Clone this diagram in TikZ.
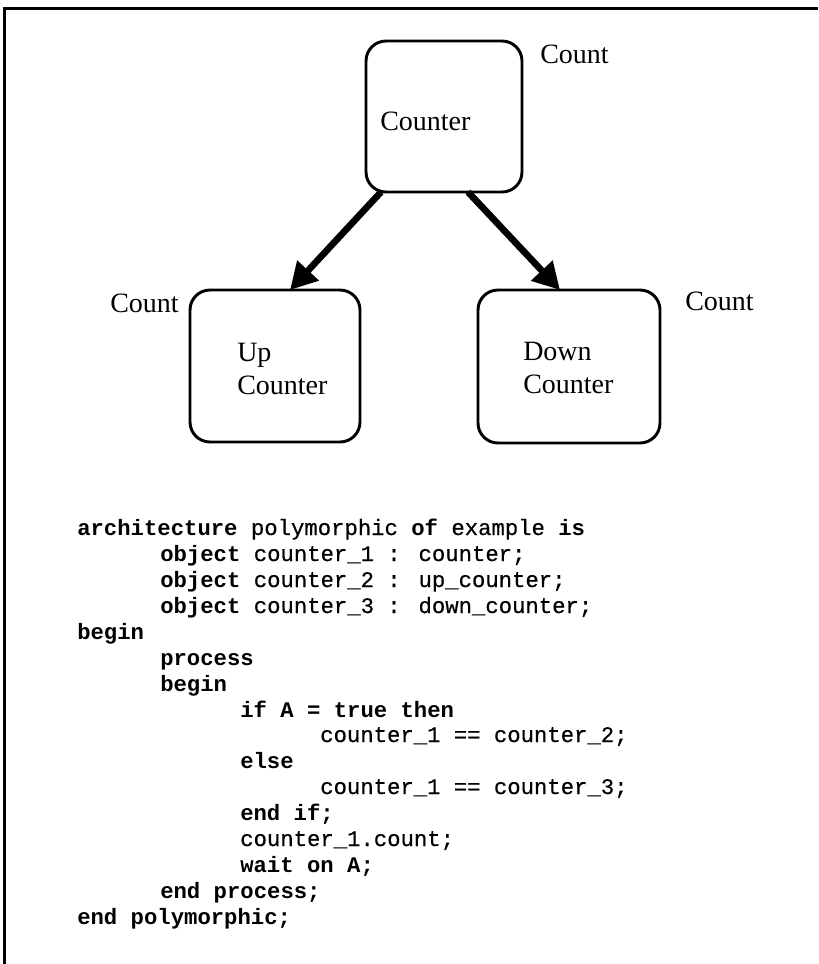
\documentclass[tikz,border=0pt]{standalone}
\usepackage{fontspec}
\setmainfont{Liberation Serif}
\newfontfamily\codefont{Liberation Mono}[UprightFeatures={FakeBold=0.5}]
\usetikzlibrary{arrows.meta,calc}

\begin{document}
\begin{tikzpicture}[x=0.75pt,y=-0.75pt,
  classbox/.style={draw, line width=2.2pt, rounded corners=15pt,
                   inner sep=0pt, outer sep=0pt},
  lbl/.style={inner sep=0pt, font=\fontsize{21}{24.75}\selectfont},
  code/.style={anchor=base west, inner sep=0pt,
               font=\codefont\fontsize{16.7}{20}\selectfont},
  inherits/.style={line width=5pt, -{Triangle[length=20pt,width=21pt]}}]

\useasboundingbox (0,0) rectangle (818,964);

% frame
\draw[line width=2.3pt] (4.5,964) -- (4.5,8.5) -- (818,8.5);

% class hierarchy
\node[classbox, minimum width=117pt, minimum height=113.25pt] (counter) at (444,116.5) {};
\node[classbox, minimum width=127.5pt, minimum height=114pt] (up) at (275,366) {};
\node[classbox, minimum width=136.5pt, minimum height=114.75pt] (down) at (569,366.5) {};

\node[lbl, anchor=base west] (counterlbl) at (380,130) {Counter};
\node[lbl, anchor=west, align=left] (uplbl) at (237,369) {Up\\Counter};
\node[lbl, anchor=west, align=left] (downlbl) at (523,368) {Down\\Counter};

\node[lbl, anchor=base west] (countA) at (540,63) {Count};
\node[lbl, anchor=base west] (countB) at (110,312) {Count};
\node[lbl, anchor=base west] (countC) at (685,310) {Count};

\draw[inherits] ($(counter.south west)+(15,0)$) -- ($(up.north west)+(100,0)$);
\draw[inherits] ($(counter.south west)+(102,0)$) -- ($(down.north west)+(82,0)$);

% VHDL++ listing
\node[code] (l0)  at (77,535) {\textbf{architecture} polymorphic \textbf{of} example \textbf{is}};
\node[code] (l1)  at (160,561) {\textbf{object} counter\_1 : counter;};
\node[code] (l2)  at (160,587) {\textbf{object} counter\_2 : up\_counter;};
\node[code] (l3)  at (160,613) {\textbf{object} counter\_3 : down\_counter;};
\node[code] (l4)  at (77,639) {\textbf{begin}};
\node[code] (l5)  at (160,665) {\textbf{process}};
\node[code] (l6)  at (160,691) {\textbf{begin}};
\node[code] (l7)  at (240,717) {\textbf{if A = true then}};
\node[code] (l8)  at (320,742) {counter\_1 == counter\_2;};
\node[code] (l9)  at (240,768) {\textbf{else}};
\node[code] (l10) at (320,794) {counter\_1 == counter\_3;};
\node[code] (l11) at (240,820) {\textbf{end if;}};
\node[code] (l12) at (240,846) {counter\_1.count;};
\node[code] (l13) at (240,872) {\textbf{wait on A;}};
\node[code] (l14) at (160,898) {\textbf{end process;}};
\node[code] (l15) at (77,924) {\textbf{end polymorphic;}};
\end{tikzpicture}
\end{document}
